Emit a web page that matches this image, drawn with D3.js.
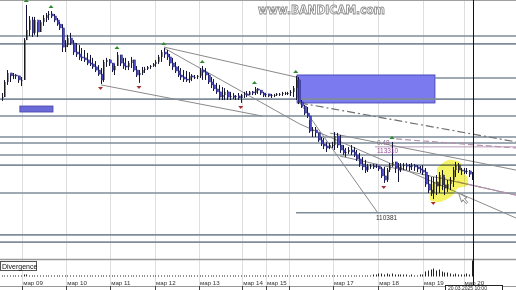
<!DOCTYPE html>
<html>
<head>
<script src="https://d3js.org/d3.v7.min.js"></script>
<style>
  body { margin: 0; background: #fff; overflow: hidden; }
  svg { display: block; font-family: "Liberation Sans", Arial, sans-serif; }
</style>
</head>
<body>
<svg width="516" height="290"></svg>
<script>
// hourly-ish bars, prices
var hi = [115700,116280,116720,116540,116590,116540,116460,116410,118140,119610,
  119120,119080,119080,118850,118940,119160,119250,119340,119340,119210,
  119030,118850,118760,118050,118280,118370,118050,117920,117830,117700,
  117610,117480,117390,117260,117120,116940,116810,117170,117260,117210,
  117030,116990,117520,117390,117260,117260,117120,117300,117170,116900,
  116720,116860,116860,116900,116940,117030,117170,117390,117610,117700,
  117610,117430,117260,117080,116900,116810,116720,116680,116630,116540,
  116500,116500,116810,116900,116810,116590,116410,116320,116150,116060,
  115970,115920,115830,115750,115700,115610,115700,115660,115750,115790,
  115790,115790,115970,115920,115830,115750,115700,115660,115660,115660,
  115700,115700,115750,115750,115750,115830,116010,116460,116410,115390,
  115170,115080,114500,114190,114190,113930,113750,113700,113530,113480,
  113530,113970,113930,113840,113390,113260,113300,113390,113300,113170,
  113040,112860,112730,112550,112550,112550,112550,112460,112420,112420,
  112370,112590,113530,112640,112590,112590,112590,112590,112550,112590,
  112550,112500,112460,112500,112370,112060,111970,111970,112060,112190,
  112280,111970,111840,111970,112420,112640,112590,112370,112370,112370,
  112280,112190];
var lo = [115350,115610,116060,116190,116320,116320,116150,116010,116280,118140,
  118230,118190,118280,118190,118410,118680,118850,118940,119030,118850,
  118680,118500,117520,117520,117740,117830,117390,117300,117170,117120,
  117080,116940,116900,116770,116630,116460,116100,116190,116860,116900,
  116630,116500,116900,116900,116770,116720,116720,116810,116630,116410,
  116150,116500,116590,116720,116770,116860,116860,116990,117080,117260,
  117170,116900,116720,116590,116410,116280,116190,116190,116150,116230,
  116320,116320,116370,116280,116280,116100,115920,115790,115660,115390,
  115390,115390,115390,115390,115430,115390,115390,115260,115480,115520,
  115610,115610,115610,115660,115610,115520,115520,115520,115480,115520,
  115570,115570,115570,115610,115610,115570,115520,115390,115210,115040,
  114720,114590,113930,113750,113750,113530,113350,113210,113080,113210,
  113260,113170,113260,113040,112950,112860,112990,112950,112860,112680,
  112420,112280,112150,112190,112330,112330,112370,112240,111930,111710,
  111750,112190,112420,112150,111750,112190,112280,112280,112240,112280,
  112240,112190,112150,112060,111530,111260,111130,110990,111170,111260,
  111390,111170,111310,111390,111530,111970,112150,112060,112100,112100,
  111970,111840];
var cl = [115520,116190,116590,116460,116500,116460,116280,116280,118050,118500,
  118940,118370,118940,118410,118850,119030,119160,119210,119120,118940,
  118760,118590,117740,117830,118140,117920,117520,117430,117300,117260,
  117170,117030,116990,116860,116720,116540,116280,117080,117170,117030,
  116720,116900,117390,117030,116900,116860,117030,117170,116720,116500,
  116590,116720,116770,116860,116900,116990,117080,117300,117520,117430,
  117300,117030,116860,116680,116500,116410,116320,116280,116460,116410,
  116410,116460,116720,116630,116500,116190,116060,115880,115750,115520,
  115610,115750,115520,115570,115520,115570,115480,115610,115660,115610,
  115750,115700,115880,115830,115700,115610,115660,115570,115610,115610,
  115660,115660,115700,115700,115700,115750,115920,116280,115300,115120,
  114810,114680,114010,114060,113930,113610,113440,113350,113260,113390,
  113390,113790,113390,113170,113040,113080,113170,113080,112950,112770,
  112550,112420,112280,112460,112460,112420,112460,112330,112020,111840,
  112280,112500,112640,112370,112280,112460,112500,112460,112420,112500,
  112420,112330,112280,112190,111660,111390,111260,111750,111570,112060,
  111620,111480,111660,111840,112280,112500,112280,112240,112190,112240,
  112100,112150];

var divergence = [1,1,1,1,1,1,1,1,2,2, 1,1,1,1,1,1,1,1,1,1, 1,1,1,1,1,1,1,1,1,1,
  1,1,1,1,1,1,1,1,1,1, 1,1,1,1,1,1,1,1,1,1, 1,1,1,1,1,1,1,1,1,1,
  1,1,1,1,1,1,1,1,1,1, 1,1,1,1,1,1,1,1,1,1, 1,1,1,1,1,1,1,1,1,1,
  1,1,1,1,1,1,1,1,1,1, 1,1,1,1,1,1,1,1,1,1, 1,1,1,1,1,1,1,1,1,1,
  1,1,1,1,1,1,1,1,1,1, 1,1,1,1,1,2,2,3,3,2, 3,2,3,2,2,2,2,2,1,2,
  1,1,2,2,5,6,7,8,6,7, 5,4,4,3,2,3,2,2,2,3, 2,16];

var fractalUp = [9, 18, 42, 59, 73, 92, 107, 142];
var fractalDown = [36, 50, 87, 139, 157];

var dayPos = [7.5, 23.5, 39.5, 55.8, 71.8, 87.5, 96.2, 104.5, 120.5, 137, 153.3, 168];
var dayLabels = ["мар 09", "мар 10", "мар 11", "мар 12", "мар 13", "мар 14", "мар 15", "", "мар 17", "мар 18", "мар 19", "мар 20"];
var cursorPos = 171.4;

var levels = [118230, 117880, 115430, 114680, 113750, 113480, 112950, 112500, 111260, 109400, 109080];
var shortLevels = [{from: 157.6, price: 116370}, {from: 107.1, price: 110381}];
var fiboLevel = {from: 135.8, price: 113310, ratio: "0.48"};

var zones = [
  {x0: 107.5, x1: 157.6, p0: 116500, p1: 115260, fill: "#7b7bef", stroke: "#4a4ac0"},
  {x0: 6.7, x1: 18.7, p0: 115120, p1: 114860, fill: "#6a6ad8", stroke: "#4a4ab0"}
];

// trend lines: [i0, p0, i1, p1, style]
var trends = [
  [59.1, 117740, 107.1, 116410, "solid"],
  [36.2, 116060, 94.7, 114680, "solid"],
  [108.5, 115260, 187.1, 113530, "dashdot"],
  [59.1, 117700, 108.5, 114320, "solid"],
  [108.5, 114320, 187.1, 110150, "solid"],
  [108.5, 115260, 136.9, 110370, "solid"],
  [123.1, 112900, 187.1, 111170, "solid"],
  [119.5, 113920, 187.1, 112280, "solid"],
  [143.5, 113660, 187.1, 113260, "pink"],
  [159.5, 111930, 187.1, 111170, "pink"]
];

var highlight = [[158.4,112370],[162.4,112730],[166.7,112640],[167.8,112190],[169.6,111930],
  [169.3,111570],[166.0,111480],[163.8,111130],[159.5,110860],[155.8,110950],[156.5,111620],[158.7,111930]];

var svg = d3.select("svg");
var x = d3.scaleLinear().domain([0, 171]).range([1.5, 471.75]);
var y = d3.scaleLinear().domain([108375, 119830]).range([258, 0]);
var yd = d3.scaleLinear().domain([0, 17]).range([276.5, 259.5]);

// vertical grid
svg.selectAll(".vg").data(dayPos).enter().append("line")
  .attr("x1", d => Math.round(x(d)) + 0.5).attr("x2", d => Math.round(x(d)) + 0.5)
  .attr("y1", 0).attr("y2", 286)
  .attr("stroke", "#dedede").attr("stroke-width", 1);

svg.append("line").attr("x1", 0).attr("x2", 516).attr("y1", 0.5).attr("y2", 0.5)
  .attr("stroke", "#a0a0a0");

// zones
svg.selectAll(".zone").data(zones).enter().append("rect")
  .attr("x", d => x(d.x0)).attr("width", d => x(d.x1) - x(d.x0))
  .attr("y", d => y(d.p0)).attr("height", d => y(d.p1) - y(d.p0))
  .attr("fill", d => d.fill).attr("stroke", d => d.stroke).attr("stroke-width", 1);

// horizontal levels
svg.selectAll(".lvl").data(levels).enter().append("line")
  .attr("x1", 0).attr("x2", 516)
  .attr("y1", d => y(d)).attr("y2", d => y(d))
  .attr("stroke", "#7f8c9a").attr("stroke-width", 1.6);
svg.selectAll(".slvl").data(shortLevels).enter().append("line")
  .attr("x1", d => x(d.from)).attr("x2", 516)
  .attr("y1", d => y(d.price)).attr("y2", d => y(d.price))
  .attr("stroke", "#7f8c9a").attr("stroke-width", 1.4);
svg.append("line")
  .attr("x1", x(fiboLevel.from)).attr("x2", 516)
  .attr("y1", y(fiboLevel.price)).attr("y2", y(fiboLevel.price))
  .attr("stroke", "#b49ab4").attr("stroke-width", 1);

// trend lines
svg.selectAll(".tl").data(trends).enter().append("line")
  .attr("x1", d => x(d[0])).attr("y1", d => y(d[1]))
  .attr("x2", d => x(d[2])).attr("y2", d => y(d[3]))
  .attr("stroke", d => d[4] == "pink" ? "#b88fae" : d[4] == "dashdot" ? "#707070" : "#8a8a8a")
  .attr("stroke-width", d => d[4] == "solid" ? 1 : 1.2)
  .attr("stroke-dasharray", d => d[4] == "dashdot" ? "8,3,2,3" : d[4] == "pink" ? "6,3" : null);

// candles
var idx = d3.range(hi.length);
var op = idx.map(i => i > 0 ? cl[i - 1] : cl[i]);
var g = svg.append("g");
g.selectAll(".wick").data(idx).enter().append("line")
  .attr("x1", i => Math.round(x(i)) + 0.5).attr("x2", i => Math.round(x(i)) + 0.5)
  .attr("y1", i => y(hi[i])).attr("y2", i => y(lo[i]))
  .attr("stroke", "#15153a").attr("stroke-width", 1);
g.selectAll(".body").data(idx).enter().append("rect")
  .attr("x", i => Math.round(x(i)) + (cl[i] < op[i] ? 0.5 : 0))
  .attr("width", i => cl[i] < op[i] ? 2 : 1.5)
  .attr("y", i => y(Math.max(op[i], cl[i])))
  .attr("height", i => Math.max(1, Math.abs(y(cl[i]) - y(op[i]))))
  .attr("fill", i => cl[i] < op[i] ? "#4a4acb" : "#1c1c1c")
  .attr("stroke", i => cl[i] < op[i] ? "#26267a" : "none")
  .attr("stroke-width", 0.5);

// fractals
svg.selectAll(".fu").data(fractalUp).enter().append("path")
  .attr("d", i => { var cx = x(i), cy = y(hi[i]) - 3; return "M" + (cx - 2.5) + "," + cy + "L" + (cx + 2.5) + "," + cy + "L" + cx + "," + (cy - 3) + "Z"; })
  .attr("fill", "#2e8b2e");
svg.selectAll(".fd").data(fractalDown).enter().append("path")
  .attr("d", i => { var cx = x(i), cy = y(lo[i]) + 3; return "M" + (cx - 2.5) + "," + cy + "L" + (cx + 2.5) + "," + cy + "L" + cx + "," + (cy + 3) + "Z"; })
  .attr("fill", "#a83030");

// highlighter
svg.append("path")
  .attr("d", d3.line().curve(d3.curveCardinalClosed.tension(0.4))(highlight.map(p => [x(p[0]), y(p[1])])))
  .attr("fill", "#f3f04a").attr("opacity", 0.85)
  .style("mix-blend-mode", "multiply");

// mouse cursor
var mc = [x(166.2), y(111260)];
svg.append("path")
  .attr("transform", "translate(" + mc[0] + "," + mc[1] + ") rotate(-40)")
  .attr("d", "M0,0 L-3.5,9 L-1,8 L-1,13 L1,13 L1,8 L3.5,9 Z")
  .attr("fill", "#fff").attr("stroke", "#777").attr("stroke-width", 0.8);

// labels on chart
svg.append("text").attr("x", x(fiboLevel.from) + 2).attr("y", y(fiboLevel.price) - 1.5)
  .attr("font-size", 6.5).attr("fill", "#907090").text(fiboLevel.ratio);
svg.append("text").attr("x", x(fiboLevel.from) + 2).attr("y", y(fiboLevel.price) + 6.5)
  .attr("font-size", 6.5).attr("fill", "#a050a0").text(String(fiboLevel.price));
svg.append("text").attr("x", x(136.9) - 2).attr("y", y(110381) + 7.5)
  .attr("font-size", 6.5).attr("fill", "#333").text("110381");

// divergence panel
svg.append("line").attr("x1", 0).attr("x2", 516).attr("y1", 259.5).attr("y2", 259.5)
  .attr("stroke", "#9a9a9a").attr("stroke-width", 1.5);
svg.selectAll(".dv").data(idx).enter().append("rect")
  .attr("x", i => Math.round(x(i)))
  .attr("width", 1)
  .attr("y", i => yd(divergence[i]))
  .attr("height", i => yd(0) - yd(divergence[i]))
  .attr("fill", "#222");
svg.append("rect").attr("x", 0.5).attr("y", 261.5).attr("width", 36).attr("height", 9)
  .attr("fill", "#fff").attr("stroke", "#555");
svg.append("text").attr("x", 2).attr("y", 269).attr("font-size", 7).attr("fill", "#111").text("Divergence");

// time axis
svg.append("line").attr("x1", 0).attr("x2", 516).attr("y1", 286.5).attr("y2", 286.5)
  .attr("stroke", "#999");
svg.selectAll(".tk").data(dayPos).enter().append("line")
  .attr("x1", d => Math.round(x(d)) + 0.5).attr("x2", d => Math.round(x(d)) + 0.5)
  .attr("y1", 286).attr("y2", 290).attr("stroke", "#444");
svg.selectAll(".dl").data(dayPos).enter().append("text")
  .attr("x", d => x(d) + 1).attr("y", 285)
  .attr("font-size", 6.2).attr("fill", "#333")
  .text((d, i) => dayLabels[i]);

// cursor line and its date box
svg.append("line").attr("x1", Math.round(x(cursorPos)) + 0.5).attr("x2", Math.round(x(cursorPos)) + 0.5)
  .attr("y1", 0).attr("y2", 286).attr("stroke", "#111").attr("stroke-width", 1);
svg.append("rect").attr("x", 445.5).attr("y", 285.5).attr("width", 57).attr("height", 5)
  .attr("fill", "#fff").attr("stroke", "#222");
svg.append("text").attr("x", 448).attr("y", 289.6).attr("font-size", 5).attr("fill", "#222").text("20.03.2025  10:00");

// screen recorder watermark
svg.append("text").attr("x", 258).attr("y", 14)
  .attr("font-family", "DejaVu Sans, sans-serif").attr("font-weight", "bold")
  .attr("font-size", 12)
  .attr("fill", "#fff").attr("stroke", "#8a8a8a").attr("stroke-width", 0.9)
  .attr("textLength", 127).attr("lengthAdjust", "spacingAndGlyphs")
  .text("www.BANDICAM.com");
</script>
</body>
</html>
